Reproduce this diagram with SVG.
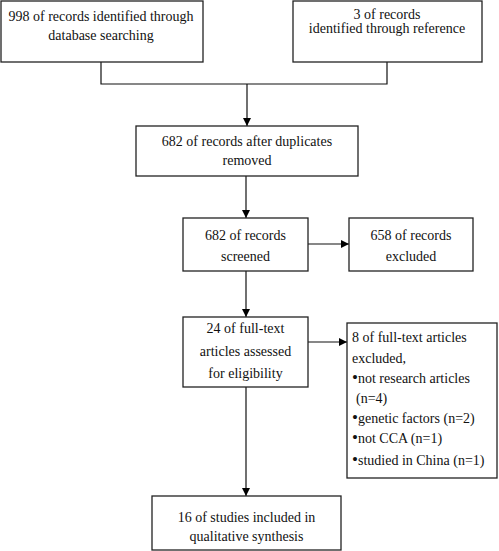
<svg xmlns="http://www.w3.org/2000/svg" width="499" height="551" viewBox="0 0 499 551">
<defs>
<marker id="ah" viewBox="0 0 10 10" refX="10" refY="5" markerWidth="8" markerHeight="8" markerUnits="userSpaceOnUse" orient="auto">
<path d="M0,0 L10,5 L0,10 z" fill="#000"/>
</marker>
<style>
.box{fill:#fff;stroke:#222;stroke-width:1.3}
.t{font-family:"Liberation Serif","Times New Roman",serif;font-size:14px;fill:#111}
.c{text-anchor:middle}
.b{font-size:17px}
.ln{fill:none;stroke:#111;stroke-width:1.2}
</style>
</defs>
<rect width="499" height="551" fill="#fff"/>
<g id="connectors">
<path class="ln" d="M101,62 V84 H387 V62"/>
<path class="ln" d="M247,84 V126" marker-end="url(#ah)"/>
<path class="ln" d="M246,176 V218" marker-end="url(#ah)"/>
<path class="ln" d="M308,244 H349" marker-end="url(#ah)"/>
<path class="ln" d="M246,271 V317" marker-end="url(#ah)"/>
<path class="ln" d="M308,342 H347" marker-end="url(#ah)"/>
<path class="ln" d="M246,387 V496" marker-end="url(#ah)"/>
</g>
<g id="n1">
<rect class="box" x="1" y="1" width="202" height="61"/>
<text class="t c" x="101" y="21">998 of records identified through</text>
<text class="t c" x="101" y="40">database searching</text>
</g>
<g id="n2">
<rect class="box" x="293" y="1" width="189" height="61"/>
<text class="t c" x="387" y="19">3 of records</text>
<text class="t c" x="387" y="33">identified through reference</text>
</g>
<g id="n3">
<rect class="box" x="136" y="126" width="222" height="50"/>
<text class="t c" x="247" y="146">682 of records after duplicates</text>
<text class="t c" x="247" y="165">removed</text>
</g>
<g id="n4">
<rect class="box" x="183" y="218" width="125" height="53"/>
<text class="t c" x="245.5" y="240">682 of records</text>
<text class="t c" x="245.5" y="261">screened</text>
</g>
<g id="n5">
<rect class="box" x="349" y="218" width="124" height="53"/>
<text class="t c" x="411" y="240">658 of records</text>
<text class="t c" x="411" y="261">excluded</text>
</g>
<g id="n6">
<rect class="box" x="183" y="317" width="125" height="70"/>
<text class="t c" x="245.5" y="333">24 of full-text</text>
<text class="t c" x="245.5" y="356">articles assessed</text>
<text class="t c" x="245.5" y="378">for eligibility</text>
</g>
<g id="n7">
<rect class="box" x="347" y="323" width="150" height="155"/>
<text class="t" x="352" y="342">8 of full-text articles</text>
<text class="t" x="352" y="363">excluded,</text>
<text class="t" x="352" y="383"><tspan class="b">•</tspan>not research articles</text>
<text class="t" x="356" y="403">(n=4)</text>
<text class="t" x="352" y="423"><tspan class="b">•</tspan>genetic factors (n=2)</text>
<text class="t" x="352" y="443"><tspan class="b">•</tspan>not CCA (n=1)</text>
<text class="t" x="352" y="465"><tspan class="b">•</tspan>studied in China (n=1)</text>
</g>
<g id="n8">
<rect class="box" x="152" y="496" width="189" height="54"/>
<text class="t c" x="246.5" y="522">16 of studies included in</text>
<text class="t c" x="246.5" y="541">qualitative synthesis</text>
</g>
</svg>
